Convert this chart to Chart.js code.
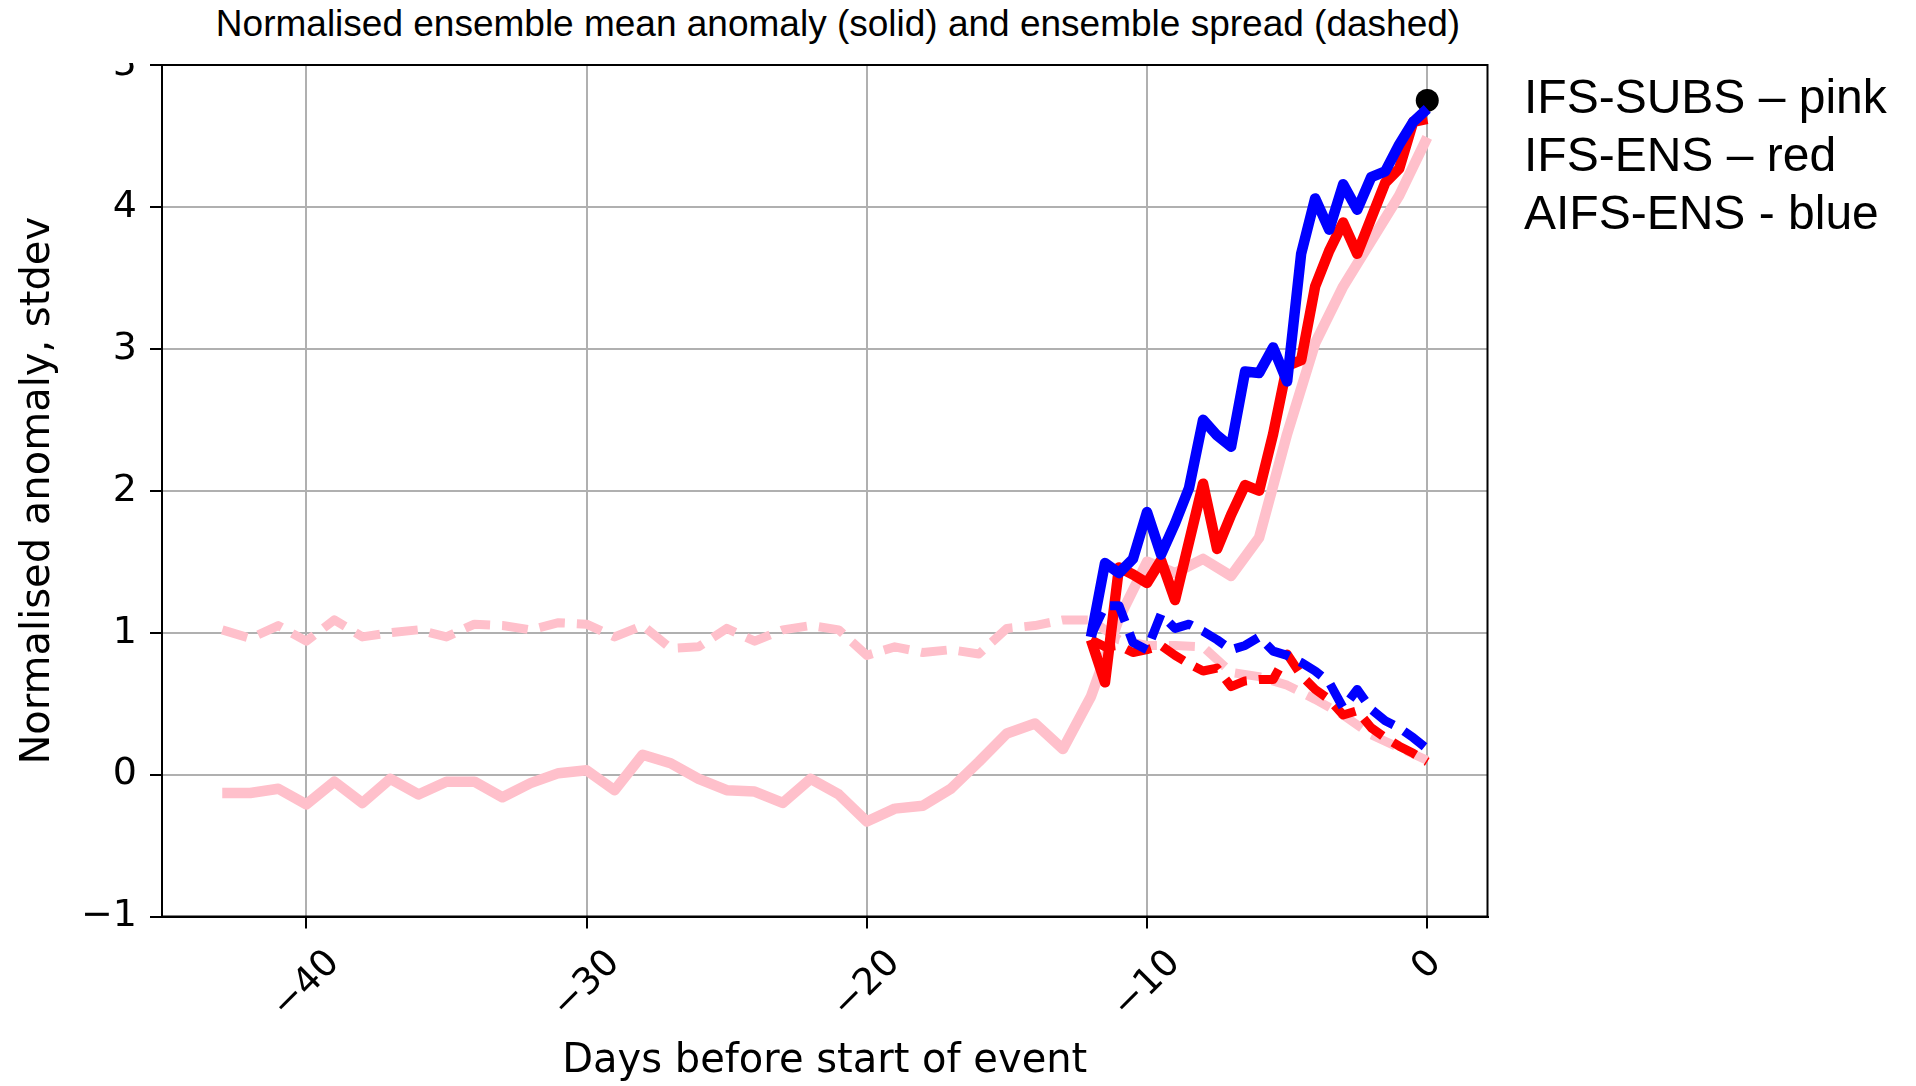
<!DOCTYPE html>
<html>
<head>
<meta charset="utf-8">
<title>Normalised ensemble mean anomaly</title>
<script src="https://cdn.jsdelivr.net/npm/chart.js"></script>
<style>
  html, body { margin: 0; padding: 0; background: #fff; }
  #wrap { position: relative; width: 1916px; height: 1086px; overflow: hidden; }
  #chart { position: absolute; left: 0; top: 0; }
  #title {
    position: absolute; left: 0; top: 0; width: 1676px; height: 58px; padding-top: 5px;
    background: #fff; text-align: center; white-space: nowrap;
    font-family: "Liberation Sans", Arial, sans-serif; font-size: 37px; line-height: 37px; color: #000;
  }
  #models {
    position: absolute; left: 1524px; top: 68px; white-space: nowrap;
    font-family: "Liberation Sans", Arial, sans-serif; font-size: 48px; line-height: 58px; color: #000;
  }
</style>
</head>
<body>
<div id="wrap">
  <canvas id="chart" width="1916" height="1086"></canvas>
  <div id="title">Normalised ensemble mean anomaly (solid) and ensemble spread (dashed)</div>
  <div id="models">IFS-SUBS – pink<br>IFS-ENS – red<br>AIFS-ENS - blue</div>
</div>
<script>
// ===== Axes =====
const xTicks = [-40, -30, -20, -10, 0];
const yTicks = [-1, 0, 1, 2, 3, 4, 5];

// ===== IFS-SUBS (daily, pink) =====
const subsDays = [-43, -42, -41, -40, -39, -38, -37, -36, -35, -34, -33, -32, -31, -30, -29,
  -28, -27, -26, -25, -24, -23, -22, -21, -20, -19, -18, -17, -16, -15, -14, -13, -12, -11,
  -10, -9, -8, -7, -6, -5, -4, -3, -2, -1, 0];
const subsMean = [-0.13, -0.13, -0.10, -0.21, -0.05, -0.20, -0.03, -0.14, -0.05, -0.05, -0.16,
  -0.06, 0.01, 0.03, -0.11, 0.14, 0.08, -0.03, -0.11, -0.12, -0.20, -0.03, -0.14, -0.33,
  -0.24, -0.22, -0.10, 0.09, 0.29, 0.36, 0.18, 0.55, 1.10, 1.50, 1.42, 1.52, 1.40, 1.67,
  2.40, 3.04, 3.44, 3.76, 4.08, 4.49];
const subsSpread = [1.02, 0.96, 1.05, 0.94, 1.09, 0.97, 1.00, 1.02, 0.97, 1.06, 1.05, 1.02,
  1.07, 1.06, 0.97, 1.05, 0.89, 0.90, 1.03, 0.94, 1.02, 1.05, 1.02, 0.84, 0.90, 0.86, 0.88,
  0.85, 1.03, 1.05, 1.09, 1.09, 0.95, 0.91, 0.91, 0.90, 0.72, 0.69, 0.63, 0.53, 0.42, 0.28,
  0.19, 0.10];

// ===== IFS-ENS (red) and AIFS-ENS (blue), every 12 h =====
const ensDays = [-12, -11.5, -11, -10.5, -10, -9.5, -9, -8.5, -8, -7.5, -7, -6.5, -6, -5.5,
  -5, -4.5, -4, -3.5, -3, -2.5, -2, -1.5, -1, -0.5, 0];
const ensMean = [0.95, 0.65, 1.46, 1.41, 1.35, 1.51, 1.23, 1.64, 2.05, 1.59, 1.83, 2.04, 2.00,
  2.40, 2.88, 2.92, 3.44, 3.69, 3.89, 3.67, 3.92, 4.17, 4.27, 4.60, 4.62];
const ensSpread = [0.95, 0.90, 0.91, 0.86, 0.88, 0.91, 0.84, 0.78, 0.73, 0.75, 0.62, 0.66,
  0.67, 0.67, 0.85, 0.70, 0.60, 0.53, 0.42, 0.45, 0.33, 0.26, 0.20, 0.15, 0.09];
const aifsMean = [0.97, 1.49, 1.42, 1.52, 1.85, 1.55, 1.77, 2.02, 2.50, 2.39, 2.31, 2.84, 2.83,
  3.01, 2.77, 3.67, 4.06, 3.84, 4.16, 3.98, 4.21, 4.25, 4.44, 4.60, 4.69];
const aifsSpread = [0.98, 1.19, 1.19, 0.93, 0.88, 1.13, 1.03, 1.06, 1.01, 0.95, 0.88, 0.91,
  0.97, 0.87, 0.84, 0.79, 0.73, 0.65, 0.47, 0.60, 0.46, 0.38, 0.33, 0.26, 0.18];

// ===== Observed event =====
const eventDays = [0];
const eventValues = [4.75];

const fmt = v => (v < 0 ? '\u2212' + Math.abs(v) : String(v));
const pts = (xs, ys) => xs.map((x, i) => ({ x: x, y: ys[i] }));

function solid(label, xs, ys, color) {
  return {
    label: label,
    data: pts(xs, ys),
    borderColor: color,
    backgroundColor: color,
    borderWidth: 10.5,
    borderJoinStyle: 'round',
    pointRadius: 0,
    fill: false
  };
}

function dashed(label, xs, ys, color) {
  const ds = solid(label, xs, ys, color);
  ds.borderWidth = 9;
  ds.borderDash = [26, 12];
  return ds;
}

// box around the plot area
const frame = {
  id: 'frame',
  afterDatasetsDraw(chart) {
    const { ctx, chartArea: a } = chart;
    ctx.save();
    ctx.strokeStyle = '#000';
    ctx.lineWidth = 2;
    ctx.strokeRect(a.left, a.top, a.right - a.left, a.bottom - a.top);
    ctx.restore();
  }
};

// x tick labels centred under their tick, turned 45 degrees
const xLabels = {
  id: 'xLabels',
  afterDraw(chart) {
    const { ctx } = chart;
    const sc = chart.scales.x;
    const size = 37;
    ctx.save();
    ctx.font = size + 'px "DejaVu Sans"';
    ctx.fillStyle = '#000';
    ctx.textAlign = 'center';
    ctx.textBaseline = 'middle';
    sc.ticks.forEach(t => {
      const text = fmt(t.value);
      const w = ctx.measureText(text).width;
      const half = (w + size * 0.75) * Math.SQRT1_2 / 2;
      ctx.save();
      ctx.translate(sc.getPixelForValue(t.value), sc.top + 12 + 19 + half);
      ctx.rotate(-Math.PI / 4);
      ctx.fillText(text, 0, 0);
      ctx.restore();
    });
    ctx.restore();
  }
};

const gridOpts = { color: '#b0b0b0', lineWidth: 2, tickLength: 12, tickColor: '#000', tickWidth: 2 };
const borderOpts = { color: '#000', width: 2 };

new Chart(document.getElementById('chart'), {
  type: 'line',
  data: {
    // first dataset is drawn on top
    datasets: [
      dashed('AIFS-ENS spread', ensDays, aifsSpread, '#0000ff'),
      solid('AIFS-ENS mean', ensDays, aifsMean, '#0000ff'),
      dashed('IFS-ENS spread', ensDays, ensSpread, '#ff0000'),
      solid('IFS-ENS mean', ensDays, ensMean, '#ff0000'),
      dashed('IFS-SUBS spread', subsDays, subsSpread, '#ffc0cb'),
      solid('IFS-SUBS mean', subsDays, subsMean, '#ffc0cb'),
      {
        label: 'Event',
        data: pts(eventDays, eventValues),
        showLine: false,
        pointRadius: 11.5,
        pointBackgroundColor: '#000',
        pointBorderWidth: 0,
        borderColor: '#000'
      }
    ]
  },
  options: {
    responsive: false,
    animation: false,
    devicePixelRatio: 1,
    layout: { padding: { top: 65, right: 428.5, bottom: 0, left: 0 } },
    plugins: { legend: { display: false }, tooltip: { enabled: false } },
    scales: {
      x: {
        type: 'linear',
        min: -45.15,
        max: 2.15,
        afterBuildTicks: s => { s.ticks = xTicks.map(v => ({ value: v })); },
        afterFit: s => { s.height = 169.5; },
        grid: gridOpts,
        border: borderOpts,
        ticks: { display: false, callback: fmt },
        title: {
          display: true, text: 'Days before start of event', color: '#000',
          font: { family: 'DejaVu Sans', size: 40 }, padding: { top: 0, bottom: 0 }
        }
      },
      y: {
        type: 'linear',
        min: -1,
        max: 5,
        afterBuildTicks: s => { s.ticks = yTicks.map(v => ({ value: v })); },
        afterFit: s => { s.width = 162; },
        grid: gridOpts,
        border: borderOpts,
        ticks: { padding: 13, color: '#000', font: { family: 'DejaVu Sans', size: 38 }, callback: fmt },
        title: {
          display: true, text: 'Normalised anomaly, stdev', color: '#000',
          font: { family: 'DejaVu Sans', size: 40 }, padding: { top: 15, bottom: 0 }
        }
      }
    }
  },
  plugins: [frame, xLabels]
});
</script>
</body>
</html>
